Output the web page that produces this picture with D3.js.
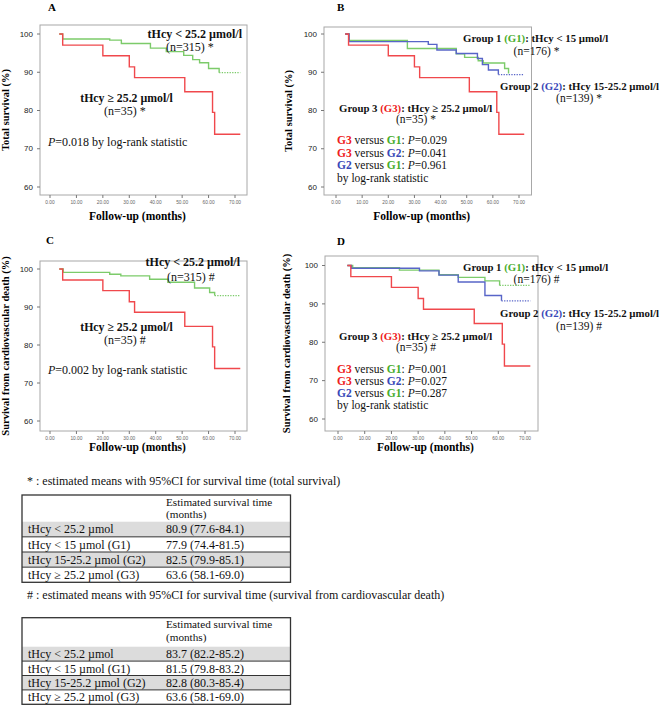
<!DOCTYPE html>
<html><head><meta charset="utf-8">
<script src="https://cdn.jsdelivr.net/npm/d3@7"></script>
<style>body{margin:0;background:#fff;} svg{display:block;}</style>
</head><body>
<svg id="chart" width="661" height="706"></svg>
<script>
// ---------- DATA ----------
const xTicks = [0, 10, 20, 30, 40, 50, 60, 70];
const xTickLabels = ["0.00", "10.00", "20.00", "30.00", "40.00", "50.00", "60.00", "70.00"];
const yTicks = [60, 70, 80, 90, 100];
const followUpEnd = 72;

// G3: tHcy >= 25.2 µmol/l (n=35) — same curve for total and CV survival
const g3T = [3.5, 4.8, 20, 30, 32, 51, 61.5, 62.3];
const g3S = [100, 97.1, 94.3, 91.4, 88.6, 84.9, 79.5, 73.8];
// tHcy < 25.2 (n=315), total survival
const lowTotalT = [3.5, 4.8, 22.6, 27, 38, 44, 50.6, 54, 56.6, 60, 64];
const lowTotalS = [100, 98.7, 98.4, 97.5, 96.3, 95.4, 94.4, 93.3, 92.5, 91.0, 89.9];
// tHcy < 25.2 (n=315), survival from CV death
const lowCvT = [3.5, 5, 22.6, 26.8, 37.7, 44.6, 54.7, 60.4, 62.3];
const lowCvS = [100, 99.1, 98.6, 98.2, 97.3, 96.5, 95.0, 93.8, 93.0];
// G1 total survival
const g1TotalT = [3.5, 5, 27.3, 46, 49.2, 54.4, 56.3, 64.5, 66];
const g1TotalS = [100, 98.3, 96.2, 94.8, 93.9, 93.0, 92.4, 91.0, 89.7];
// G2 total survival
const g2TotalT = [3.5, 5, 35.3, 38.6, 46, 54.1, 56, 58.3, 62.1];
const g2TotalS = [100, 98.0, 97.3, 95.8, 94.9, 93.6, 92.0, 90.6, 89.4];
// G1 survival from CV death
const g1CvT = [3.5, 5.5, 23, 37.8, 45, 55, 60.5];
const g1CvS = [100, 99.4, 98.8, 97.6, 96.9, 96.0, 94.8];
// G2 survival from CV death
const g2CvT = [3.5, 5, 30.5, 37.8, 45, 55, 61.2];
const g2CvS = [100, 99.3, 98.6, 97.5, 95.7, 92.2, 90.8];

// Tables
const tableHeader = ["Estimated survival time", "(months)"];
const tableRowLabels = ["tHcy < 25.2 \u00b5mol", "tHcy < 15 \u00b5mol (G1)", "tHcy 15-25.2 \u00b5mol (G2)", "tHcy \u2265 25.2 \u00b5mol (G3)"];
const totalMeans = ["80.9 (77.6-84.1)", "77.9 (74.4-81.5)", "82.5 (79.9-85.1)", "63.6 (58.1-69.0)"];
const cvMeans = ["83.7 (82.2-85.2)", "81.5 (79.8-83.2)", "82.8 (80.3-85.4)", "63.6 (58.1-69.0)"];

// ---------- STYLE ----------
const RED = "#f0484c", GREEN = "#7ccb6a", BLUE = "#5865c8";
const TRED = "#ee2020", TGREEN = "#48ad2c", TBLUE = "#3848b8";
const SERIF = "'Liberation Serif','Times New Roman',serif";
const SANS = "'Liberation Sans',Arial,sans-serif";

const svg = d3.select("#chart");

function rich(g, x, y, parts, opt = {}) {
  const t = g.append("text").attr("x", x).attr("y", y)
    .attr("font-family", SERIF).attr("font-size", opt.size || 12)
    .attr("font-weight", opt.weight || "normal")
    .attr("text-anchor", opt.anchor || "start").attr("fill", "#111");
  parts.forEach(p => {
    if (typeof p === "string") p = { t: p };
    const s = t.append("tspan").text(p.t);
    if (p.fill) s.attr("fill", p.fill);
    if (p.weight) s.attr("font-weight", p.weight);
    if (p.style) s.attr("font-style", p.style);
  });
  return t;
}

function panel(cfg) {
  const g = svg.append("g");
  const x = d3.scaleLinear().domain([0, 70]).range(cfg.xr);
  const y = d3.scaleLinear().domain([60, 100]).range(cfg.yr);
  const b = cfg.box;
  g.append("rect").attr("x", b[0]).attr("y", b[1]).attr("width", b[2] - b[0]).attr("height", b[3] - b[1])
    .attr("fill", "none").attr("stroke", "#a8a8a8").attr("stroke-width", 1);
  yTicks.forEach(v => {
    g.append("line").attr("x1", b[0] - 3).attr("x2", b[0]).attr("y1", y(v)).attr("y2", y(v)).attr("stroke", "#777");
    g.append("text").attr("x", b[0] - 7).attr("y", y(v) + 2.7).attr("text-anchor", "end")
      .attr("font-family", SANS).attr("font-size", 8).attr("fill", "#222").text(v);
  });
  xTicks.forEach((v, i) => {
    g.append("line").attr("x1", x(v)).attr("x2", x(v)).attr("y1", b[3]).attr("y2", b[3] + 3).attr("stroke", "#777");
    g.append("text").attr("x", x(v)).attr("y", cfg.tickY).attr("text-anchor", "middle")
      .attr("font-family", SANS).attr("font-size", 4.8).attr("fill", "#666").text(xTickLabels[i]);
  });
  g.append("text").attr("x", (b[0] + b[2]) / 2 + cfg.xtOff).attr("y", cfg.xTitleY).attr("text-anchor", "middle")
    .attr("font-family", SERIF).attr("font-weight", "bold").attr("font-size", 11.5).text("Follow-up (months)");
  g.append("text").attr("transform", `translate(${cfg.ytX},${(b[1] + b[3]) / 2}) rotate(-90)`)
    .attr("text-anchor", "middle").attr("font-family", SERIF).attr("font-weight", "bold")
    .attr("font-size", 10.5).text(cfg.yTitle);
  g.append("text").attr("x", cfg.letter[0]).attr("y", cfg.letter[1]).attr("font-family", SERIF)
    .attr("font-weight", "bold").attr("font-size", 11).text(cfg.letter[2]);
  const line = d3.line().x(d => x(d[0])).y(d => y(d[1])).curve(d3.curveStepAfter);
  cfg.curves.forEach(c => {
    const pts = c.T.map((t, i) => [t, c.S[i]]);
    const last = pts[pts.length - 1];
    if (c.tail === "dotted") {
      g.append("path").attr("d", line(pts)).attr("fill", "none").attr("stroke", c.color).attr("stroke-width", 1.4);
      g.append("path").attr("d", line([last, [followUpEnd, last[1]]])).attr("fill", "none")
        .attr("stroke", c.color).attr("stroke-width", 1.2).attr("stroke-dasharray", "1.3,1.3");
    } else if (c.tail === "solid") {
      g.append("path").attr("d", line(pts.concat([[followUpEnd, last[1]]]))).attr("fill", "none")
        .attr("stroke", c.color).attr("stroke-width", 1.4);
    } else {
      g.append("path").attr("d", line(pts)).attr("fill", "none").attr("stroke", c.color).attr("stroke-width", 1.4);
    }
  });
  return g;
}

// ---------- PANELS ----------
const gA = panel({
  box: [40, 25, 247, 195], xr: [50, 235], yr: [187, 34], tickY: 203.5, xTitleY: 220, xtOff: -6,
  ytX: 9, yTitle: "Total survival (%)", letter: [48, 11, "A"],
  curves: [
    { T: lowTotalT, S: lowTotalS, color: GREEN, tail: "dotted" },
    { T: g3T, S: g3S, color: RED, tail: "solid" }
  ]
});
rich(gA, 242, 38, ["tHcy < 25.2  \u00b5mol/l"], { anchor: "end", weight: "bold", size: 12 });
rich(gA, 190, 51, ["(n=315) *"], { anchor: "middle", size: 12 });
rich(gA, 126.5, 101.5, ["tHcy \u2265 25.2  \u00b5mol/l"], { anchor: "middle", weight: "bold", size: 11.8 });
rich(gA, 125, 115, ["(n=35) *"], { anchor: "middle", size: 12 });
rich(gA, 48, 146, [{ t: "P", style: "italic" }, "=0.018 by log-rank statistic"], { size: 12 });

const gB = panel({
  box: [324, 27, 531.5, 195], xr: [336, 519], yr: [187, 34], tickY: 203.5, xTitleY: 220, xtOff: -6,
  ytX: 292, yTitle: "Total survival (%)", letter: [337, 11, "B"],
  curves: [
    { T: g1TotalT, S: g1TotalS, color: GREEN, tail: "none" },
    { T: g2TotalT, S: g2TotalS, color: BLUE, tail: "dotted" },
    { T: g3T, S: g3S, color: RED, tail: "solid" }
  ]
});

function groupTexts(g, ys, mark, ps) {
  rich(g, 463, ys[0], ["Group 1 ", { t: "(G1)", fill: TGREEN }, ": tHcy < 15  \u00b5mol/l"], { weight: "bold", size: 10.8 });
  rich(g, 536.5, ys[1], [`(n=176) ${mark}`], { anchor: "middle", size: 11.5 });
  rich(g, 500, ys[2], ["Group 2 ", { t: "(G2)", fill: TBLUE }, ": tHcy 15-25.2  \u00b5mol/l"], { weight: "bold", size: 10.8 });
  rich(g, 579, ys[3], [`(n=139) ${mark}`], { anchor: "middle", size: 11.5 });
  rich(g, 339, ys[4], ["Group 3 ", { t: "(G3)", fill: TRED }, ": tHcy \u2265 25.2  \u00b5mol/l"], { weight: "bold", size: 10.8 });
  rich(g, 416, ys[5], [`(n=35) ${mark}`], { anchor: "middle", size: 11.5 });
  const cmp = [
    [["G3", TRED], ["G1", TGREEN]],
    [["G3", TRED], ["G2", TBLUE]],
    [["G2", TBLUE], ["G1", TGREEN]]
  ];
  cmp.forEach((c, i) => {
    rich(g, 337, ys[6 + i], [{ t: c[0][0], fill: c[0][1], weight: "bold" }, " versus ", { t: c[1][0], fill: c[1][1], weight: "bold" }, ": ", { t: "P", style: "italic" }, "=" + ps[i]], { size: 11.5 });
  });
  rich(g, 337, ys[9], ["by log-rank statistic"], { size: 11.5 });
}
groupTexts(gB, [42, 55, 90, 102, 112, 123, 144, 156.5, 168.5, 182], "*", ["0.029", "0.041", "0.961"]);

const gC = panel({
  box: [40, 261, 247, 431], xr: [50, 235], yr: [421, 269], tickY: 439.5, xTitleY: 450.5, xtOff: -6,
  ytX: 9, yTitle: "Survival from cardiovascular death (%)", letter: [46, 244, "C"],
  curves: [
    { T: lowCvT, S: lowCvS, color: GREEN, tail: "dotted" },
    { T: g3T, S: g3S, color: RED, tail: "solid" }
  ]
});
rich(gC, 240, 266, ["tHcy < 25.2  \u00b5mol/l"], { anchor: "end", weight: "bold", size: 12 });
rich(gC, 191, 281, ["(n=315) #"], { anchor: "middle", size: 12 });
rich(gC, 126.5, 330.5, ["tHcy \u2265 25.2  \u00b5mol/l"], { anchor: "middle", weight: "bold", size: 11.8 });
rich(gC, 125, 344, ["(n=35) #"], { anchor: "middle", size: 12 });
rich(gC, 48, 374, [{ t: "P", style: "italic" }, "=0.002 by log-rank statistic"], { size: 12 });

const gD = panel({
  box: [325, 256, 538, 431], xr: [338, 525], yr: [419, 265.5], tickY: 439.5, xTitleY: 450.5, xtOff: -6,
  ytX: 290, yTitle: "Survival from cardiovascular death (%)", letter: [337, 245, "D"],
  curves: [
    { T: g1CvT, S: g1CvS, color: GREEN, tail: "dotted" },
    { T: g2CvT, S: g2CvS, color: BLUE, tail: "dotted" },
    { T: g3T, S: g3S, color: RED, tail: "solid" }
  ]
});
groupTexts(gD, [271, 283, 317, 330, 340, 351, 373, 385, 396.5, 409], "#", ["0.001", "0.027", "0.287"]);

// ---------- TABLES ----------
function table(caption, capY, top, headerH, rowH, values) {
  const g = svg.append("g");
  const left = 22, right = 290.5, col2 = 166, col1 = 28;
  g.append("text").attr("x", 27).attr("y", capY).attr("font-family", SERIF).attr("font-size", 12)
    .attr("fill", "#111").text(caption);
  const rowsTop = top + headerH;
  values.forEach((v, i) => {
    const ry = rowsTop + i * rowH;
    if (i % 2 === 0) g.append("rect").attr("x", left).attr("y", ry).attr("width", right - left).attr("height", rowH).attr("fill", "#dcdcdc");
    if (i > 0) g.append("line").attr("x1", left).attr("x2", right).attr("y1", ry).attr("y2", ry).attr("stroke", "#333").attr("stroke-width", 1);
    g.append("text").attr("x", col1).attr("y", ry + rowH / 2 + 4.2).attr("font-family", SERIF).attr("font-size", 12).attr("fill", "#111").text(tableRowLabels[i]);
    g.append("text").attr("x", col2).attr("y", ry + rowH / 2 + 4.2).attr("font-family", SERIF).attr("font-size", 12).attr("fill", "#111").text(v);
  });
  g.append("text").attr("x", col2).attr("y", top + 10.5).attr("font-family", SERIF).attr("font-size", 11.2).attr("fill", "#111").text(tableHeader[0]);
  g.append("text").attr("x", col2).attr("y", top + 23).attr("font-family", SERIF).attr("font-size", 11.2).attr("fill", "#111").text(tableHeader[1]);
  const bottom = rowsTop + values.length * rowH;
  g.append("rect").attr("x", left).attr("y", top).attr("width", right - left).attr("height", bottom - top)
    .attr("fill", "none").attr("stroke", "#333").attr("stroke-width", 1.3);
}
table("* : estimated means with 95%CI for survival time (total survival)", 485, 495, 26.7, 15.15, totalMeans);
table("# : estimated means with 95%CI for survival time (survival from cardiovascular death)", 598.5, 617.7, 29, 14.4, cvMeans);
</script>
</body></html>
